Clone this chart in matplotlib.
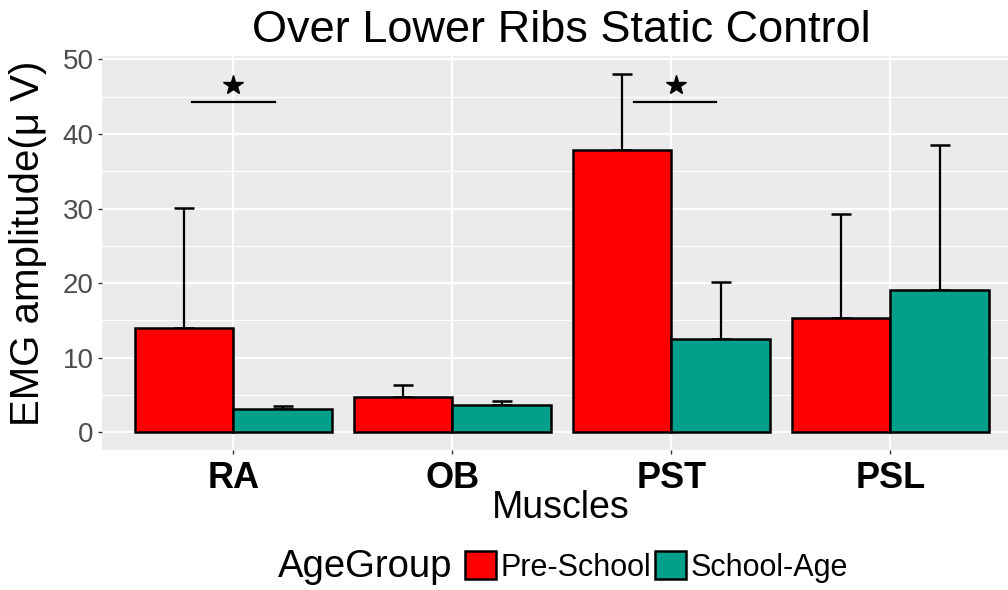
import numpy as np
import matplotlib.pyplot as plt
from matplotlib.ticker import MultipleLocator

plt.rcParams['font.family'] = ['Liberation Sans', 'DejaVu Sans']

# data
muscles = ['RA', 'OB', 'PST', 'PSL']
groups = ['Pre-School', 'School-Age']
pre_mean = [14.0, 4.7, 37.85, 15.3]
pre_sd = [16.1, 1.6, 10.15, 13.9]
school_mean = [3.08, 3.7, 12.5, 19.0]
school_sd = [0.42, 0.45, 7.6, 19.5]

# significance marks: (left, right, line height, star x, star height)
sig_left = [0.81, 2.83]
sig_right = [1.19, 3.205]
sig_line_y = [44.3, 44.3]
sig_star_x = [1.0, 3.02]
sig_star_y = [46.6, 46.6]

colors = ['#FF0000', '#00A08A']

W, H = 1008, 590
fig = plt.figure(figsize=(W / 100, H / 100), dpi=100)
# panel spans x 102..1008 px, y 55.7..450 px
ax = fig.add_axes([102 / W, (H - 450) / H, (W - 102) / W, (450 - 55.7) / H])
ax.set_facecolor('#EBEBEB')

x = np.arange(1, len(muscles) + 1)
bw = 0.45
bars = []
for i, (m, s) in enumerate([(pre_mean, pre_sd), (school_mean, school_sd)]):
    pos = x + (i - 0.5) * bw
    b = ax.bar(pos, m, width=bw, color=colors[i], edgecolor='black',
               linewidth=1.8, zorder=3, label=groups[i])
    bars.append(b)
    ax.errorbar(pos, m, yerr=[np.zeros(len(m)), s], fmt='none',
                ecolor='black', elinewidth=1.6, capsize=7.5, capthick=1.8,
                zorder=2)

for l, r, ly, sx, sy in zip(sig_left, sig_right, sig_line_y, sig_star_x, sig_star_y):
    ax.plot([l, r], [ly, ly], color='black', lw=1.6, zorder=4)
    ax.plot([sx], [sy], marker='*', ms=15, color='black', zorder=4)

ax.set_xlim(0.4, 0.4 + (W - 102) / 219)
ax.set_ylim(-2.4, 50.5)
ax.set_xticks(x)
ax.set_xticklabels(muscles, fontsize=26, fontweight='bold')
ax.yaxis.set_major_locator(MultipleLocator(10))
ax.yaxis.set_minor_locator(MultipleLocator(5))
ax.tick_params(axis='y', which='major', labelsize=20, labelcolor='#4D4D4D',
               length=3, width=1, color='#333333', pad=3)
ax.tick_params(axis='y', which='minor', length=0)
ax.tick_params(axis='x', length=3, width=1, color='#333333', pad=5)

ax.grid(True, which='major', color='white', lw=1.6, zorder=0)
ax.grid(True, which='minor', axis='y', color='white', lw=0.8, zorder=0)
ax.set_axisbelow(True)
for sp in ax.spines.values():
    sp.set_visible(False)

ax.set_xlabel('Muscles', fontsize=27)
ax.xaxis.set_label_coords((561 - 102) / (W - 102), -(508 - 450) / (450 - 55.7))
ax.xaxis.label.set_va('center')
ax.set_ylabel('EMG amplitude(μ V)', fontsize=29)
ax.yaxis.set_label_coords(-(102 - 28) / (W - 102), (450 - 243) / (450 - 55.7))
ax.yaxis.label.set_va('center')

fig.text(561 / W, 1 - 30 / H, 'Over Lower Ribs Static Control', fontsize=32.5,
         ha='center', va='center')

fig.text(278 / W, 1 - 567 / H, 'AgeGroup', fontsize=27.5, ha='left', va='center')
fig.legend(handles=bars, labels=groups, loc='center left',
           bbox_to_anchor=(465 / W, 1 - 567 / H), ncol=2, frameon=False,
           fontsize=22, handlelength=1.0, handleheight=1.0,
           handletextpad=0.15, columnspacing=0.15, borderpad=0,
           borderaxespad=0)

fig.savefig('out.png', dpi=100)
